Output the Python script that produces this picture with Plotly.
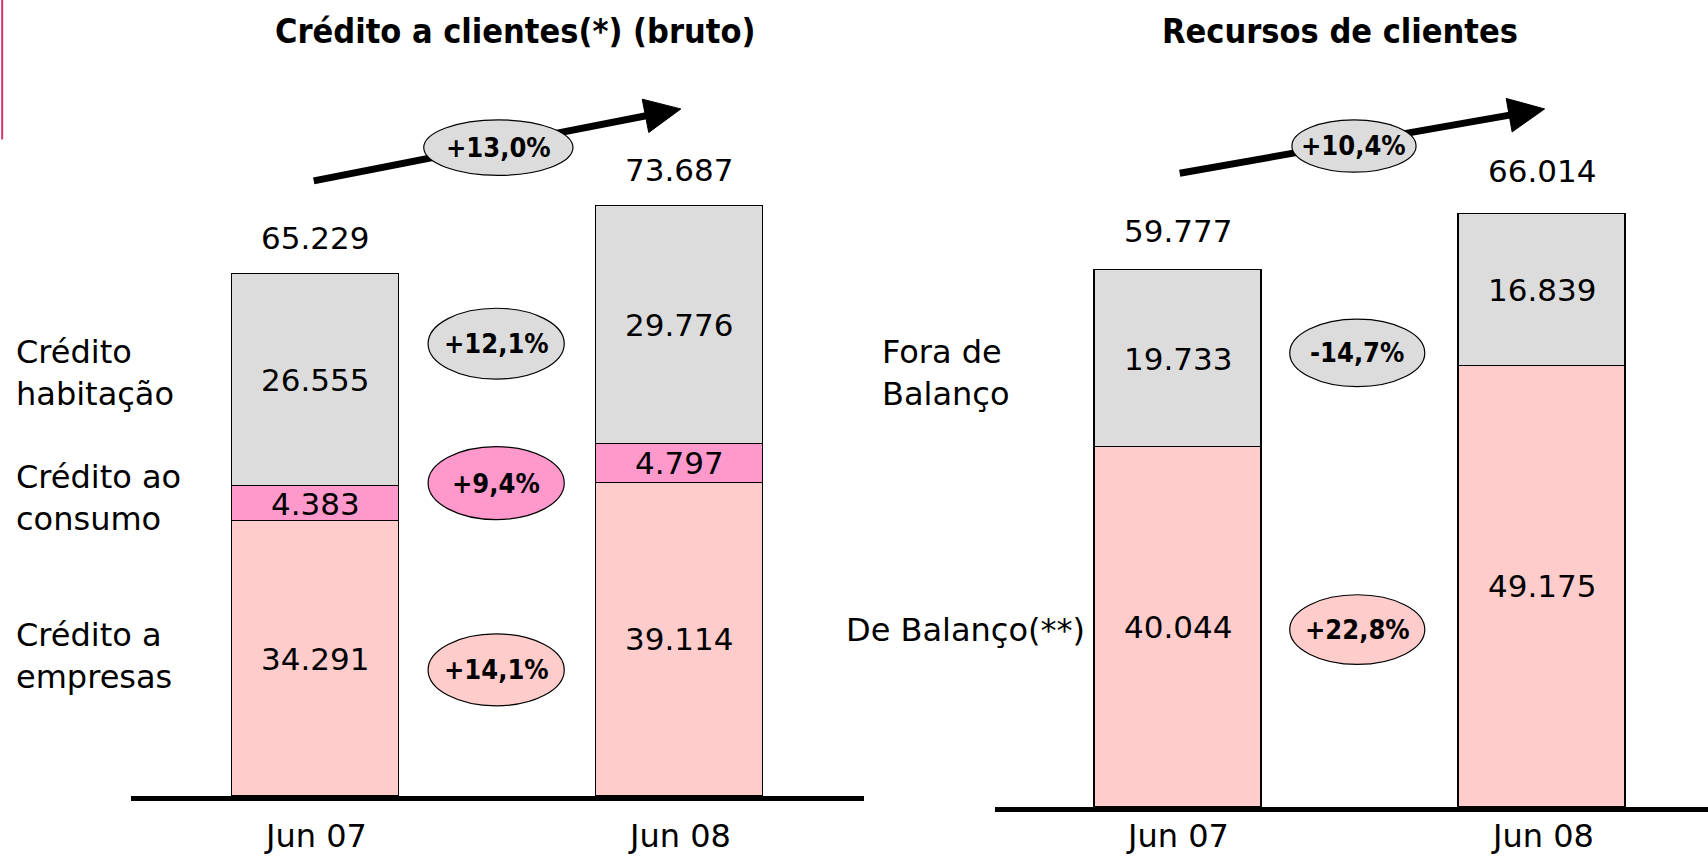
import plotly.graph_objects as go

# ---------------- data ----------------
categories = ["Jun 07", "Jun 08"]

credito_empresas = [34291, 39114]
credito_consumo = [4383, 4797]
credito_habitacao = [26555, 29776]
credito_growth_total = "+13,0%"
credito_growth_segments = ["+12,1%", "+9,4%", "+14,1%"]  # habitação, consumo, empresas
credito_labels = ["Crédito<br>habitação", "Crédito ao<br>consumo", "Crédito a<br>empresas"]

recursos_balanco = [40044, 49175]
recursos_fora = [19733, 16839]
recursos_growth_total = "+10,4%"
recursos_growth_segments = ["-14,7%", "+22,8%"]  # fora, balanço
recursos_labels = ["Fora de<br>Balanço", "De Balanço(**)"]

titles = ["<b>Crédito a clientes(*) (bruto)</b>", "<b>Recursos de clientes</b>"]

# ---------------- styles ----------------
GRAY = "#DCDCDC"
PINK = "#FF99CC"
LPINK = "#FFCCCC"
FONT = "DejaVu Sans, sans-serif"
FONT_C = "DejaVu Sans Condensed, DejaVu Sans, sans-serif"
W, H = 1708, 858
S = 1708 / 1568  # reference preview -> full size


def fx(x):
    return x * S / W


def fy(y):
    return 1 - y * S / H


def fmt(v):
    return f"{v:,}".replace(",", ".")


credito_total = [a + b + c for a, b, c in zip(credito_empresas, credito_consumo, credito_habitacao)]
recursos_total = [a + b for a, b in zip(recursos_balanco, recursos_fora)]

fig = go.Figure()
line = dict(color="black", width=1.2)

fig.add_bar(x=categories, y=credito_empresas, marker=dict(color=LPINK, line=line), xaxis="x", yaxis="y", hoverinfo="skip")
fig.add_bar(x=categories, y=credito_consumo, marker=dict(color=PINK, line=line), xaxis="x", yaxis="y", hoverinfo="skip")
fig.add_bar(x=categories, y=credito_habitacao, marker=dict(color=GRAY, line=line), xaxis="x", yaxis="y", hoverinfo="skip")
fig.add_bar(x=categories, y=recursos_balanco, marker=dict(color=LPINK, line=line), xaxis="x2", yaxis="y2", hoverinfo="skip")
fig.add_bar(x=categories, y=recursos_fora, marker=dict(color=GRAY, line=line), xaxis="x2", yaxis="y2", hoverinfo="skip")

for tr in fig.data:
    tr.width = 0.458

annotations = []
shapes = []
NUM = 31


def seg_labels(stacks, xa, ya):
    for i, cat in enumerate(categories):
        base = 0
        for s in stacks:
            v = s[i]
            annotations.append(dict(x=cat, y=base + v / 2, xref=xa, yref=ya, text=fmt(v),
                                    xanchor="center", yanchor="middle",
                                    showarrow=False, font=dict(size=NUM, color="black", family=FONT)))
            base += v


seg_labels([credito_empresas, credito_consumo, credito_habitacao], "x", "y")
seg_labels([recursos_balanco, recursos_fora], "x2", "y2")

for i, cat in enumerate(categories):
    annotations.append(dict(x=cat, y=credito_total[i], xref="x", yref="y", text=fmt(credito_total[i]),
                            showarrow=False, xanchor="center", yanchor="middle", yshift=36,
                            font=dict(size=NUM, color="black", family=FONT)))
    annotations.append(dict(x=cat, y=recursos_total[i], xref="x2", yref="y2", text=fmt(recursos_total[i]),
                            showarrow=False, xanchor="center", yanchor="middle", yshift=39 + 4 * i,
                            font=dict(size=NUM, color="black", family=FONT)))

# category labels under each chart (placed on the x axes' category positions)
for cat in categories:
    for xa in ("x", "x2"):
        annotations.append(dict(x=cat, y=1 - 836 / H, xref=xa, yref="paper", text=cat, showarrow=False,
                                xanchor="center", yanchor="middle",
                                font=dict(size=32, color="black", family=FONT)))


def ptext(x, y, text, size, font=FONT, xanchor="center", align="center"):
    annotations.append(dict(x=fx(x), y=fy(y), xref="paper", yref="paper", text=text, showarrow=False,
                            xanchor=xanchor, yanchor="middle", align=align,
                            font=dict(size=size, color="black", family=font)))


# titles
ptext(473, 28, titles[0], 34, FONT_C)
ptext(1230, 28, titles[1], 34, FONT_C)

# category side labels
for txt, yc in zip(credito_labels, [342.5, 457.5, 602.5]):
    ptext(13, yc, txt, 32, xanchor="left", align="left")
ptext(808, 342, recursos_labels[0], 32, xanchor="left", align="left")
ptext(998, 578, recursos_labels[1], 32, xanchor="right", align="right")


def arrow(tail, tip, head_len=36, head_half=17, width=7):
    tx, ty = tail[0] * S, tail[1] * S
    hx, hy = tip[0] * S, tip[1] * S
    dx, dy = hx - tx, hy - ty
    L = (dx * dx + dy * dy) ** 0.5
    ux, uy = dx / L, dy / L
    bx, by = hx - head_len * ux, hy - head_len * uy
    nx, ny = -uy, ux
    c1 = (bx + head_half * nx, by + head_half * ny)
    c2 = (bx - head_half * nx, by - head_half * ny)
    shapes.append(dict(type="line", xref="paper", yref="paper",
                       x0=tx / W, y0=1 - ty / H, x1=(bx + 2 * ux) / W, y1=1 - (by + 2 * uy) / H,
                       line=dict(color="black", width=width)))
    path = "M {:.5f},{:.5f} L {:.5f},{:.5f} L {:.5f},{:.5f} Z".format(
        hx / W, 1 - hy / H, c1[0] / W, 1 - c1[1] / H, c2[0] / W, 1 - c2[1] / H)
    shapes.append(dict(type="path", xref="paper", yref="paper", path=path,
                       fillcolor="black", line=dict(color="black", width=1)))


arrow((288, 166), (625, 100))
arrow((1083, 159), (1418, 100))


def ellipse(x0, x1, y0, y1, fill, text, size=27):
    shapes.append(dict(type="circle", xref="paper", yref="paper",
                       x0=fx(x0), x1=fx(x1), y0=fy(y1), y1=fy(y0),
                       fillcolor=fill, line=dict(color="black", width=1.2), layer="above"))
    ptext((x0 + x1) / 2, (y0 + y1) / 2, f"<b>{text}</b>", size, FONT_C)


ellipse(389, 526, 110, 161, GRAY, credito_growth_total)
ellipse(393, 518, 283, 348, GRAY, credito_growth_segments[0])
ellipse(393, 518, 410, 477, PINK, credito_growth_segments[1])
ellipse(393, 518, 582, 648, LPINK, credito_growth_segments[2])

ellipse(1186, 1300, 110, 158, GRAY, recursos_growth_total)
ellipse(1184, 1308, 293, 355, GRAY, recursos_growth_segments[0])
ellipse(1184, 1308, 546, 610, LPINK, recursos_growth_segments[1])

shapes.append(dict(type="line", xref="paper", yref="paper", x0=fx(2), x1=fx(2), y0=fy(0), y1=fy(128),
                   line=dict(color="#D6336C", width=2)))

left_base = 796
right_base = 807
left_scale = 8.01 / 1000
right_scale = 8.978 / 1000

axis_common = dict(showgrid=False, zeroline=False, ticks="", showticklabels=False, showline=True,
                   linecolor="black", linewidth=5, fixedrange=True, automargin=False)

fig.update_layout(
    template="none",
    barmode="stack",
    width=W, height=H,
    autosize=False,
    margin=dict(l=0, r=0, t=0, b=0, pad=0),
    paper_bgcolor="white", plot_bgcolor="white",
    showlegend=False,
    bargap=0,
    xaxis=dict(domain=[131 / W, 864 / W], range=[-0.507, 1.508], anchor="y", **axis_common),
    yaxis=dict(domain=[(H - left_base) / H, 1], range=[0, left_base / left_scale], visible=False,
               anchor="x", fixedrange=True, automargin=False),
    xaxis2=dict(domain=[994.5 / W, 1], range=[-0.504, 1.456], anchor="y2", **axis_common),
    yaxis2=dict(domain=[(H - right_base) / H, 1], range=[0, right_base / right_scale], visible=False,
                anchor="x2", fixedrange=True, automargin=False),
    annotations=annotations,
    shapes=shapes,
)

fig.write_html("out.html", config={"displayModeBar": False},
               post_script="document.body.style.margin='0';document.body.style.overflow='hidden';")
